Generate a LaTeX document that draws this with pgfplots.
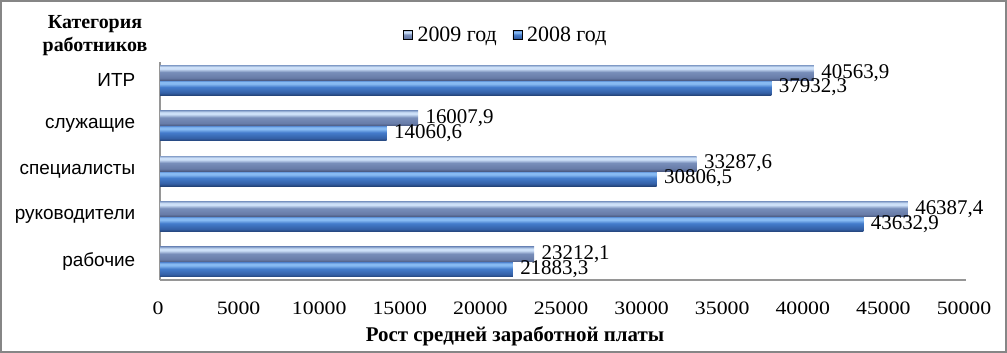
\documentclass[border=0pt]{standalone}
\usepackage{fontspec}
\setmainfont{Liberation Serif}
\newfontfamily\arial{Liberation Sans}
\newfontfamily\wideserif[FakeStretch=1.15]{Liberation Serif}
\usepackage{pgfplots}
\pgfplotsset{compat=1.18}
\definecolor{frame}{RGB}{134,134,134}
\definecolor{axgray}{RGB}{150,150,150}
\definecolor{aDark}{RGB}{76,92,132}
\definecolor{aMid}{RGB}{104,124,168}
\definecolor{aMain}{RGB}{120,142,186}
\definecolor{aLight}{RGB}{205,224,248}
\definecolor{aTop}{RGB}{135,160,202}
\definecolor{bDark}{RGB}{36,68,122}
\definecolor{bMid}{RGB}{52,96,166}
\definecolor{bMain}{RGB}{68,124,204}
\definecolor{bLight}{RGB}{135,186,242}
\definecolor{bTop}{RGB}{72,124,202}
\pgfdeclareverticalshading{barA}{100bp}{%
  color(0bp)=(aDark);
  color(25bp)=(aDark);
  color(33bp)=(aMid);
  color(52bp)=(aMain);
  color(63bp)=(aLight);
  color(69bp)=(aLight);
  color(75bp)=(aTop);
  color(100bp)=(aTop)}
\pgfdeclareverticalshading{barB}{100bp}{%
  color(0bp)=(bDark);
  color(25bp)=(bDark);
  color(33bp)=(bMid);
  color(52bp)=(bMain);
  color(63bp)=(bLight);
  color(69bp)=(bLight);
  color(75bp)=(bTop);
  color(100bp)=(bTop)}
\pgfplotsset{
  bB/.style={shading=barB, draw=none, bar shift=-7.5bp, forget plot},
  bA/.style={shading=barA, draw=none, bar shift=7.5bp, forget plot},
}
\begin{document}
\begin{tikzpicture}
\useasboundingbox (0,0) rectangle (1007bp,353bp);
\draw[frame, line width=2bp] (1bp,1bp) rectangle (1006bp,352bp);
\begin{axis}[
  at={(160bp,73bp)}, anchor=south west,
  scale only axis, width=806bp, height=218bp,
  xbar, bar width=15bp,
  xmin=0, xmax=50000, ymin=-0.4, ymax=4.4,
  ytick={0,1,2,3,4},
  yticklabels={рабочие,руководители,специалисты,служащие,ИТР},
  xtick={0,5000,...,50000},
  scaled x ticks=false,
  xticklabel={\pgfmathprintnumber[fixed,1000 sep={}]{\tick}},
  xticklabel style={font=\wideserif\fontsize{19}{19}\selectfont, anchor=north, yshift=-18bp, xshift=-2bp},
  yticklabel style={font=\arial\fontsize{19}{19}\selectfont, anchor=east, xshift=-17bp},
  /pgf/number format/assume math mode=true,
  tick style={draw=none},
  axis x line*=bottom, axis y line*=left,
  axis line style={-, axgray, line width=1.2bp},
  clip=false,
  nodes near coords={\pgfmathprintnumber[fixed,precision=1,zerofill,use comma,1000 sep={}]{\pgfplotspointmeta}},
  every node near coord/.append style={font=\fontsize{21}{21}\selectfont, anchor=west, xshift=4bp, black},
  legend columns=2,
  legend style={at={(0.429,1.124)}, anchor=center, draw=none, fill=none,
    font=\fontsize{22}{22}\selectfont,
    /tikz/every odd column/.append style={column sep=3bp},
    /tikz/every even column/.append style={column sep=14bp}},
  legend image code/.code={\path[#1] (0bp,-4.5bp) rectangle (9bp,4.5bp);},
]
\addlegendimage{shading=barA}
\addlegendentry{2009 год}
\addlegendimage{shading=barB}
\addlegendentry{2008 год}
% 2008
\addplot[bB] coordinates {(21883.3,0)};
\addplot[bB] coordinates {(43632.9,1)};
\addplot[bB] coordinates {(30806.5,2)};
\addplot[bB] coordinates {(14060.6,3)};
\addplot[bB] coordinates {(37932.3,4)};
% 2009
\addplot[bA] coordinates {(23212.1,0)};
\addplot[bA] coordinates {(46387.4,1)};
\addplot[bA] coordinates {(33287.6,2)};
\addplot[bA] coordinates {(16007.9,3)};
\addplot[bA] coordinates {(40563.9,4)};
\end{axis}
\node[font=\bfseries\fontsize{20}{23}\selectfont, align=center] at (95bp,317bp) {Категория\\работников};
\node[font=\bfseries\fontsize{21}{21}\selectfont] at (515bp,17bp) {Рост средней заработной платы};
\end{tikzpicture}
\end{document}
